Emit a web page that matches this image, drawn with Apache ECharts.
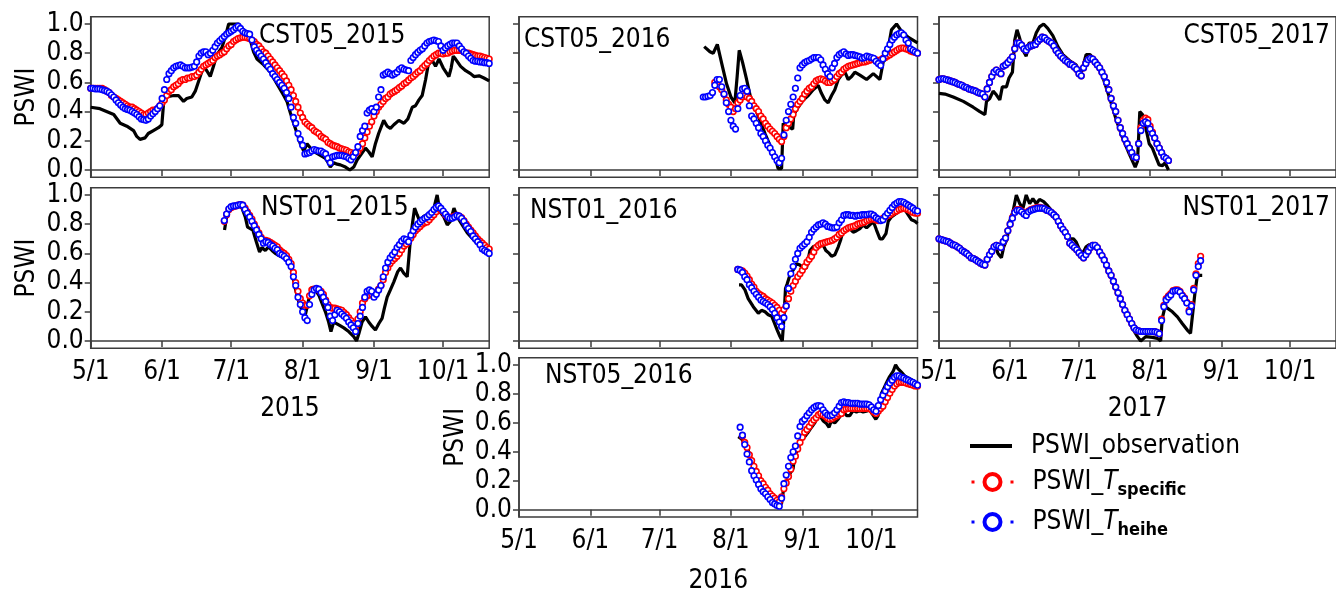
<!DOCTYPE html>
<html>
<head>
<meta charset="utf-8">
<script src="https://cdn.jsdelivr.net/npm/echarts@6/dist/echarts.min.js"></script>
<style>
  html, body { margin: 0; padding: 0; background: #fff; }
  #chart { width: 1336px; height: 595px; }
</style>
</head>
<body>
<div id="chart"></div>
<script>
// Day offsets are counted from 1 May of each season (day 0 = 5/1).
const DAY_TICKS = [0, 31, 61, 92, 123, 153];
const DAY_LABELS = ['5/1', '6/1', '7/1', '8/1', '9/1', '10/1'];
const Y_TICKS = [0, 0.2, 0.4, 0.6, 0.8, 1.0];
const SERIES_NAMES = ['PSWI_observation', 'PSWI_Tspecific', 'PSWI_Theihe'];

// ---------- CST05 2015 ----------
const OBS_CST05_2015 = [[0,.43],[4,.42],[10,.38],[12.8,.32],[15.7,.30],[18.6,.27],[20,.23],[21.4,.21],[23.6,.22],[25,.25],[27.2,.27],[29.4,.29],[30.9,.31],[31.9,.51],[33,.50],[36,.51],[38.1,.51],[40.3,.47],[41.7,.49],[43.9,.50],[45.4,.54],[47.1,.62],[49,.71],[50.4,.68],[51.9,.64],[53.3,.71],[54.8,.79],[57,.84],[58.4,.91],[59.9,1.0],[62,1.0],[64.2,1.0],[65.7,.97],[67.8,.93],[69.3,.89],[70.7,.81],[72.2,.76],[75.1,.72],[78,.67],[80.9,.59],[83.8,.51],[85.2,.47],[86.7,.39],[88.1,.32],[89.6,.25],[91,.18],[92.5,.13],[93.9,.18],[95.4,.15],[97.5,.12],[99.7,.10],[101.9,.08],[103.3,.045],[104,.02],[105.5,.05],[107,.04],[108.4,.035],[110.6,.02],[112.5,0],[114.2,.02],[115.7,.07],[117.1,.10],[119.3,.15],[120.7,.125],[122.2,.09],[123.6,.18],[125,.25],[127.2,.34],[128.7,.30],[130.1,.285],[131.6,.31],[133.8,.34],[136,.32],[137.7,.35],[139.6,.43],[141,.44],[142.5,.48],[143.9,.51],[145.4,.62],[146.5,.72],[148.3,.75],[149.7,.71],[151.2,.76],[153,.70],[155.5,.64],[156.5,.70],[157.4,.78],[158.4,.76],[160.6,.71],[162.8,.68],[164.9,.66],[166.4,.64],[168.6,.645],[170.7,.63],[173,.61]];
const SPEC_CST05_2015 = [
  .56,.56,.56,.56,.56,.56,.55,.54,.53,.51,
  .50,.49,.48,.47,.46,.45,.44,.43,.43,.42,
  .41,.40,.39,.38,.38,.39,.40,.41,.41,.42,
  .44,.46,.48,.51,.54,.55,.57,.58,.59,.61,
  .62,.62,.63,.63,.64,.64,.65,.67,.69,.71,
  .72,.73,.74,.75,.77,.78,.79,.80,.81,.83,
  .85,.86,.88,.89,.90,.905,.91,.91,.905,.90,
  .89,.88,.86,.85,.83,.81,.80,.78,.76,.74,
  .72,.70,.68,.66,.64,.61,.58,.55,.51,.47,
  .43,.39,.36,.33,.315,.30,.29,.27,.26,.25,
  .23,.22,.21,.19,.18,.17,.165,.16,.15,.145,
  .14,.135,.125,.12,.11,.115,.125,.15,.18,.22,
  .26,.30,.33,.37,.40,.43,.45,.47,.49,.50,
  .52,.53,.54,.55,.565,.575,.59,.60,.615,.63,
  .64,.655,.67,.68,.70,.715,.73,.75,.765,.78,
  .79,.80,.80,.795,.80,.80,.81,.815,.82,.82,
  .82,.82,.81,.80,.80,.795,.79,.785,.78,.78,
  .775,.77,.765,.76];
const HEIHE_CST05_2015 = [
  .56,.56,.555,.555,.555,.55,.545,.54,.53,.515,
  .50,.48,.46,.445,.43,.42,.415,.41,.40,.39,
  .38,.365,.35,.345,.34,.35,.37,.385,.40,.42,
  .44,.49,.55,.62,.66,.68,.70,.71,.715,.72,
  .71,.70,.70,.70,.705,.71,.74,.78,.80,.81,
  .81,.79,.80,.82,.845,.87,.885,.90,.915,.93,
  .94,.95,.96,.975,.985,.97,.95,.94,.935,.93,
  .89,.845,.82,.80,.78,.76,.735,.71,.69,.66,
  .64,.62,.60,.58,.56,.53,.49,.43,.36,.32,
  .25,.21,.17,.11,.115,.12,.13,.14,.135,.13,
  .13,.12,.11,.08,.05,.09,.095,.10,.10,.10,
  .095,.09,.08,.07,.09,.12,.16,.23,.27,.30,
  .39,.41,.42,.40,.43,.50,.55,.65,.66,.67,
  .66,.65,.66,.67,.69,.70,.69,.685,.68,.75,
  .77,.79,.805,.82,.83,.85,.87,.88,.885,.89,
  .885,.88,.85,.82,.835,.85,.86,.87,.87,.87,
  .85,.83,.81,.80,.78,.765,.75,.745,.745,.74,
  .74,.735,.735,.73];

// ---------- CST05 2016 ----------
const OBS_CST05_2016 = [[80.4,.845],[82.9,.81],[84.3,.80],[86.1,.86],[88,.73],[90.1,.59],[92,.50],[93.7,.46],[94.7,.64],[95.6,.82],[97,.74],[98.8,.62],[100.5,.50],[102.4,.43],[104.6,.34],[106.8,.25],[108.9,.17],[111.1,.09],[112.5,.01],[114,.01],[114.7,.32],[115.9,.30],[117.6,.29],[118.8,.28],[119.3,.38],[121.2,.43],[123.4,.48],[125.6,.51],[127.7,.55],[129.9,.58],[131.3,.525],[132.8,.48],[134.2,.46],[135.7,.51],[137.1,.55],[138.6,.62],[140,.65],[141.5,.67],[142.9,.62],[144.4,.64],[145.8,.67],[148,.65],[150.9,.62],[153.8,.66],[156.7,.62],[158.1,.74],[159.8,.79],[161.7,.96],[163.9,1.0],[166.1,.95],[168.9,.91],[173,.87]];
const SPEC_CST05_2016 = [
  .60,.59,.57,.55,.52,.48,.45,.43,.40,.42,
  .46,.48,.50,.51,.50,.49,.47,.44,.42,.40,
  .37,.35,.32,.30,.28,.265,.25,.23,.21,.195,
  .23,.29,.32,.35,.38,.42,.45,.47,.49,.52,
  .54,.56,.57,.59,.61,.62,.625,.62,.61,.60,
  .60,.61,.62,.64,.66,.67,.69,.70,.71,.715,
  .72,.725,.73,.735,.74,.74,.745,.75,.755,.76,
  .755,.745,.755,.765,.77,.78,.79,.80,.81,.82,
  .83,.835,.835,.83,.825,.815,.81,.805,.80];
const HEIHE_CST05_2016 = [
  .50,.50,.505,.51,.53,.58,.62,.62,.57,.52,
  .46,.40,.34,.30,.28,.42,.51,.555,.56,.54,
  .44,.37,.35,.32,.29,.25,.23,.20,.17,.15,
  .12,.09,.065,.05,.08,.24,.34,.40,.45,.50,
  .56,.63,.70,.72,.735,.745,.75,.76,.77,.77,
  .77,.755,.72,.69,.66,.64,.70,.73,.77,.79,
  .80,.81,.795,.785,.79,.79,.785,.78,.775,.765,
  .77,.78,.775,.77,.765,.745,.73,.715,.76,.80,
  .83,.86,.89,.91,.925,.935,.94,.925,.89,.87,
  .83,.82,.81,.80];

// ---------- CST05 2017 ----------
const OBS_CST05_2017 = [[0,.525],[2.6,.52],[6.2,.50],[10.6,.47],[14.9,.43],[17.8,.40],[20,.38],[20.7,.47],[22.1,.49],[23.6,.54],[25,.515],[26.5,.48],[27.6,.57],[29.4,.57],[30.5,.63],[32,.67],[33,.89],[34,.96],[35.2,.90],[36.6,.82],[38,.78],[39.2,.87],[40.9,.87],[42.4,.94],[43.8,.98],[45.6,1.0],[47.4,.97],[49.6,.92],[51.8,.845],[54,.79],[56.8,.75],[59.7,.72],[61.9,.66],[64.1,.79],[65.8,.79],[67,.77],[69.1,.73],[71.3,.64],[74.2,.50],[77.1,.35],[80,.22],[82.9,.11],[85.5,.02],[86.5,.06],[87.5,.40],[88.7,.38],[90.1,.29],[91.6,.18],[93,.15],[94.5,.09],[95.9,.035],[97.4,.03],[98.5,.05],[100,0]];
const SPEC_CST05_2017 = [
  .62,.625,.625,.62,.615,.61,.605,.60,.59,.585,
  .58,.57,.565,.555,.55,.545,.54,.53,.525,.52,
  .50,.555,.60,.64,.67,.685,.67,.66,.71,.72,
  .735,.755,.775,.83,.87,.87,.855,.83,.82,.84,
  .85,.855,.86,.88,.895,.91,.905,.89,.88,.87,
  .85,.82,.80,.78,.765,.75,.74,.725,.72,.705,
  .69,.66,.645,.70,.73,.755,.765,.76,.74,.72,
  .70,.67,.64,.60,.55,.49,.44,.40,.34,.29,
  .25,.21,.18,.15,.12,.09,.085,.18,.29,.34,
  .355,.345,.30,.26,.22,.18,.15,.12,.09,.08,
  .065];
const HEIHE_CST05_2017 = [
  .62,.625,.625,.62,.615,.61,.605,.60,.59,.585,
  .58,.57,.565,.555,.55,.545,.54,.53,.525,.52,
  .50,.555,.60,.64,.67,.685,.67,.66,.71,.72,
  .735,.755,.775,.83,.87,.87,.855,.83,.82,.84,
  .85,.855,.86,.88,.895,.91,.905,.89,.88,.87,
  .85,.82,.80,.78,.765,.75,.74,.725,.72,.705,
  .69,.66,.645,.70,.73,.755,.765,.76,.74,.72,
  .70,.67,.64,.60,.55,.49,.44,.40,.34,.29,
  .25,.21,.18,.15,.12,.09,.085,.18,.27,.32,
  .33,.32,.28,.25,.22,.18,.15,.12,.09,.08,
  .065];

// ---------- NST01 2015 ----------
const OBS_NST01_2015 = [[58.1,.76],[59.1,.86],[60.6,.91],[62,.92],[64.2,.93],[65.7,.91],[67.1,.85],[68.1,.78],[69.3,.77],[70.4,.76],[71.9,.68],[73.3,.61],[74.3,.64],[75.8,.62],[77.2,.645],[78.7,.62],[80.1,.60],[82.3,.58],[84.5,.565],[85.9,.545],[87.4,.475],[88.8,.36],[90.3,.27],[91.7,.21],[93.2,.18],[94.6,.28],[96.1,.37],[97.5,.35],[99,.315],[100.4,.26],[101.9,.20],[103.3,.13],[104.3,.065],[105.5,.13],[107.7,.11],[109.9,.09],[112,.065],[114.2,.03],[115.4,0],[116.4,.05],[117.8,.13],[119.3,.165],[120.7,.13],[122.2,.10],[123.6,.075],[125.1,.12],[126.5,.155],[127.5,.225],[128.7,.30],[130.1,.35],[131.6,.405],[133.3,.475],[134.5,.50],[135.9,.465],[137.4,.44],[138.6,.66],[139.6,.795],[140.6,.91],[141.7,.865],[142.9,.82],[144.6,.855],[146.8,.87],[149,.91],[150.4,1.0],[151.6,.885],[153.3,.85],[154.8,.795],[156.2,.82],[157.7,.91],[159.1,.85],[161.3,.795],[163.5,.74],[166.4,.69],[169.3,.645],[171.4,.62],[173,.59]];
const SPEC_NST01_2015 = [
  .82,.865,.90,.915,.92,.925,.93,.935,.93,.91,
  .885,.86,.835,.80,.77,.74,.71,.685,.69,.685,
  .675,.665,.655,.645,.625,.61,.60,.585,.56,.53,
  .47,.40,.34,.29,.26,.245,.245,.31,.35,.355,
  .355,.35,.34,.32,.28,.25,.23,.225,.225,.22,
  .215,.21,.195,.18,.16,.14,.12,.10,.15,.20,
  .26,.29,.31,.315,.32,.32,.33,.355,.38,.42,
  .47,.50,.53,.55,.565,.58,.60,.625,.65,.665,
  .68,.705,.73,.755,.77,.785,.80,.81,.815,.83,
  .85,.865,.885,.905,.90,.885,.865,.85,.845,.85,
  .855,.86,.855,.845,.825,.80,.78,.76,.74,.72,
  .70,.685,.67,.655,.64,.63];
const HEIHE_NST01_2015 = [
  .825,.87,.905,.92,.925,.925,.93,.935,.93,.90,
  .875,.85,.82,.79,.76,.73,.70,.67,.68,.675,
  .66,.65,.635,.625,.60,.59,.58,.565,.54,.51,
  .44,.38,.30,.25,.20,.16,.14,.25,.32,.35,
  .36,.355,.33,.30,.27,.23,.17,.14,.18,.21,
  .20,.185,.17,.155,.13,.11,.09,.065,.12,.17,
  .23,.30,.34,.35,.34,.30,.32,.35,.38,.44,
  .50,.54,.57,.59,.61,.64,.66,.685,.70,.695,
  .68,.725,.755,.78,.80,.815,.83,.84,.85,.865,
  .88,.90,.915,.925,.91,.89,.87,.85,.84,.84,
  .85,.86,.855,.84,.82,.79,.77,.75,.72,.70,
  .68,.66,.63,.62,.61,.60];

// ---------- NST01 2016 ----------
const OBS_NST01_2016 = [[95.5,.385],[96.6,.385],[98.1,.35],[99.5,.29],[101.7,.235],[103.9,.19],[105.3,.21],[106.8,.20],[108.2,.18],[109.7,.17],[110.7,.13],[112.1,.075],[113.3,.03],[114.3,0],[115,.155],[115.7,.36],[116.4,.39],[117.6,.45],[119,.485],[120.5,.53],[121.9,.52],[123.4,.50],[124.8,.50],[126.3,.62],[127.7,.645],[129.2,.655],[130.6,.68],[132.1,.655],[133.2,.62],[134.7,.60],[135.7,.58],[137.1,.59],[138.6,.645],[139.6,.69],[140.7,.76],[142.2,.78],[143.6,.77],[145.1,.745],[146.5,.755],[148,.77],[149.4,.795],[150.9,.775],[152.3,.795],[153.8,.82],[155.2,.76],[156.7,.70],[157.8,.70],[159.3,.735],[160.3,.82],[161.7,.85],[163.9,.875],[166.1,.91],[167.5,.90],[168.9,.865],[170.4,.83],[171.9,.82],[173,.805]];
const SPEC_NST01_2016 = [
  .49,.485,.48,.465,.445,.42,.39,.37,.34,.325,
  .315,.305,.29,.28,.27,.26,.245,.23,.21,.19,
  .215,.24,.29,.34,.38,.41,.44,.46,.485,.51,
  .54,.56,.58,.61,.64,.655,.665,.67,.675,.68,
  .685,.69,.70,.71,.73,.74,.755,.765,.775,.78,
  .785,.79,.80,.805,.81,.815,.825,.83,.835,.835,
  .83,.825,.83,.84,.85,.86,.865,.875,.885,.89,
  .90,.905,.91,.905,.90,.89,.88,.875,.875];
const HEIHE_NST01_2016 = [
  .49,.485,.47,.44,.42,.385,.365,.34,.32,.30,
  .28,.27,.26,.25,.235,.215,.19,.16,.13,.10,
  .16,.24,.36,.46,.51,.56,.60,.635,.65,.665,
  .68,.71,.745,.765,.78,.795,.80,.81,.80,.785,
  .78,.775,.775,.78,.81,.83,.86,.865,.865,.86,
  .86,.855,.86,.86,.865,.865,.865,.87,.87,.86,
  .845,.835,.825,.83,.855,.875,.895,.915,.935,.945,
  .955,.955,.95,.94,.93,.92,.91,.895,.89];

// ---------- NST01 2017 ----------
const OBS_NST01_2017 = [[0,.70],[6.2,.66],[12.7,.59],[18.5,.53],[20,.52],[20.7,.56],[22.9,.615],[24.7,.645],[25.7,.60],[27.2,.57],[28.2,.645],[29.7,.70],[30.8,.82],[32.3,.89],[33.7,1.0],[35.2,.94],[36.6,.91],[38,1.0],[39.5,.94],[40.9,.975],[42.4,.94],[43.8,.97],[45.6,.955],[47.4,.925],[49.6,.885],[51.1,.86],[52.5,.82],[54,.775],[55.4,.74],[56.8,.70],[58.6,.70],[59.7,.68],[61.2,.625],[62.6,.60],[64.1,.645],[65.5,.66],[67,.645],[69.1,.625],[71.3,.565],[73.5,.485],[75.7,.405],[77.8,.325],[80,.245],[82.2,.165],[84.3,.087],[86.5,.03],[87.9,0],[90.1,.03],[93,.025],[95.2,.018],[96.6,0],[97.3,.155],[98.5,.235],[99.5,.225],[101.7,.20],[103.9,.165],[106,.12],[108.2,.075],[109.6,.053],[110.4,.065],[111.5,.325],[112.5,.44],[113.6,.45],[114.7,.45]];
const SPEC_NST01_2017 = [
  .70,.695,.69,.685,.68,.67,.66,.655,.645,.635,
  .62,.61,.60,.585,.57,.565,.555,.545,.535,.525,
  .52,.56,.59,.615,.645,.655,.65,.64,.68,.705,
  .755,.80,.845,.885,.90,.90,.89,.875,.865,.89,
  .90,.905,.91,.915,.915,.91,.905,.895,.89,.88,
  .865,.85,.82,.79,.765,.745,.715,.67,.655,.64,
  .625,.605,.585,.57,.59,.615,.64,.655,.655,.64,
  .61,.585,.555,.52,.48,.45,.41,.37,.33,.29,
  .25,.21,.18,.15,.12,.09,.075,.07,.065,.065,
  .065,.065,.065,.065,.064,.06,.05,.15,.245,.29,
  .31,.325,.345,.35,.35,.34,.315,.295,.265,.21,
  .25,.36,.46,.53,.58];
const HEIHE_NST01_2017 = [
  .70,.695,.69,.685,.68,.67,.66,.655,.645,.635,
  .62,.61,.60,.585,.57,.565,.555,.545,.535,.525,
  .52,.56,.59,.615,.645,.655,.65,.64,.68,.705,
  .755,.80,.84,.88,.895,.895,.885,.87,.86,.885,
  .895,.90,.905,.91,.91,.91,.905,.895,.89,.88,
  .865,.85,.82,.79,.765,.745,.715,.67,.655,.64,
  .625,.605,.585,.57,.59,.615,.64,.655,.655,.64,
  .61,.585,.555,.52,.48,.45,.41,.37,.33,.29,
  .25,.21,.18,.15,.12,.09,.075,.07,.065,.065,
  .065,.065,.065,.065,.064,.06,.05,.14,.235,.28,
  .30,.315,.34,.345,.345,.335,.31,.29,.26,.20,
  .24,.35,.45,.51,.55];

// ---------- NST05 2016 ----------
const OBS_NST05_2016 = [[95.2,.505],[96.6,.49],[98,.455],[99.5,.41],[100.9,.35],[102.4,.295],[103.8,.25],[105.3,.205],[106.7,.16],[108.2,.125],[109.6,.09],[111.1,.057],[112.5,.016],[113.2,.007],[114,.045],[114.7,.125],[115.8,.19],[116.8,.215],[117.6,.25],[118.3,.245],[119,.285],[119.7,.375],[120.5,.375],[121.2,.42],[122.2,.48],[123.1,.495],[124.1,.505],[125.5,.535],[127,.57],[128.4,.60],[129.4,.635],[130.6,.65],[132,.615],[133.5,.595],[134.6,.57],[135.6,.615],[137.1,.60],[138.5,.625],[140,.66],[141,.675],[142.2,.65],[143.6,.65],[145,.685],[146.5,.675],[147.9,.685],[149.4,.675],[150.8,.68],[152.3,.69],[153.4,.66],[154.9,.625],[155.9,.65],[156.6,.725],[157.4,.805],[158.3,.835],[159.5,.875],[160.9,.92],[162.4,.955],[163.5,1.0],[164.5,.975],[166,.95],[167.4,.925],[168.9,.91],[170.3,.90],[171.8,.88],[173,.875]];
const SPEC_NST05_2016 = [
  .51,.465,.43,.38,.34,.30,.265,.235,.20,.18,
  .155,.135,.11,.095,.08,.065,.055,.09,.145,.185,
  .23,.28,.335,.37,.42,.465,.50,.535,.555,.575,
  .60,.62,.635,.655,.665,.655,.645,.63,.625,.63,
  .64,.65,.66,.665,.69,.695,.70,.70,.70,.70,
  .70,.70,.70,.70,.70,.70,.69,.675,.665,.68,
  .70,.715,.745,.775,.805,.83,.855,.87,.88,.88,
  .88,.875,.87,.865,.86,.855,.855];
const HEIHE_NST05_2016 = [
  .57,.515,.45,.385,.33,.27,.235,.205,.175,.145,
  .125,.11,.09,.07,.05,.04,.03,.025,.08,.18,
  .24,.30,.36,.40,.44,.51,.575,.61,.625,.65,
  .67,.69,.705,.715,.72,.715,.69,.67,.655,.65,
  .655,.67,.69,.715,.74,.745,.74,.74,.735,.735,
  .735,.735,.73,.73,.73,.73,.725,.71,.69,.68,
  .72,.76,.79,.82,.85,.875,.895,.915,.925,.925,
  .915,.91,.90,.895,.885,.88,.87,.86];

// Panels: station/year, data arrays and first day of each simulated series.
const PANELS = [
  { title: 'CST05_2015', obs: OBS_CST05_2015, spec: SPEC_CST05_2015, specStart: 0,  heihe: HEIHE_CST05_2015, heiheStart: 0 },
  { title: 'CST05_2016', obs: OBS_CST05_2016, spec: SPEC_CST05_2016, specStart: 85, heihe: HEIHE_CST05_2016, heiheStart: 80 },
  { title: 'CST05_2017', obs: OBS_CST05_2017, spec: SPEC_CST05_2017, specStart: 0,  heihe: HEIHE_CST05_2017, heiheStart: 0 },
  { title: 'NST01_2015', obs: OBS_NST01_2015, spec: SPEC_NST01_2015, specStart: 58, heihe: HEIHE_NST01_2015, heiheStart: 58 },
  { title: 'NST01_2016', obs: OBS_NST01_2016, spec: SPEC_NST01_2016, specStart: 95, heihe: HEIHE_NST01_2016, heiheStart: 95 },
  { title: 'NST01_2017', obs: OBS_NST01_2017, spec: SPEC_NST01_2017, specStart: 0,  heihe: HEIHE_NST01_2017, heiheStart: 0 },
  { title: 'NST05_2016', obs: OBS_NST05_2016, spec: SPEC_NST05_2016, specStart: 97, heihe: HEIHE_NST05_2016, heiheStart: 96 }
];

// Page layout of the seven small multiples.
const LAYOUT = [
  { left: 90.7, top: 16.7,  yLabels: true,  xLabels: false, xName: '',     nameGap: 48, title: { left: 259, top: 23 } },
  { left: 519,  top: 16.7,  yLabels: false, xLabels: false, xName: '',     nameGap: 48, title: { left: 524, top: 27 } },
  { left: 939,  top: 16.7,  yLabels: false, xLabels: false, xName: '',     nameGap: 48, title: { right: 6,  top: 23 } },
  { left: 90.7, top: 187.7, yLabels: true,  xLabels: true,  xName: '2015', nameGap: 48, title: { left: 261, top: 195 } },
  { left: 519,  top: 187.7, yLabels: false, xLabels: false, xName: '',     nameGap: 48, title: { left: 530, top: 198 } },
  { left: 939,  top: 187.7, yLabels: false, xLabels: true,  xName: '2017', nameGap: 48, title: { right: 6,  top: 195 } },
  { left: 519,  top: 357.7, yLabels: true,  xLabels: true,  xName: '2016', nameGap: 51, title: { left: 545, top: 363 } }
];
const GRID_W = 398.5, GRID_H = 160.6;

const FONT = '"DejaVu Sans Condensed", "DejaVu Sans", sans-serif';
const AXIS_COLOR = '#3c3c3c';
const RED = '#ff0000', BLUE = '#0000ff';

const toPairs = (values, start) => values.map((v, i) => [start + i, v]);

const grids = [], xAxes = [], yAxes = [], titles = [], series = [];
PANELS.forEach((p, i) => {
  const L = LAYOUT[i];
  grids.push({
    left: L.left, top: L.top, width: GRID_W, height: GRID_H,
    show: true, borderColor: AXIS_COLOR, borderWidth: 1.5, backgroundColor: 'transparent'
  });
  xAxes.push({
    type: 'value', gridIndex: i, min: 0, max: 173,
    axisLine: { show: true, lineStyle: { color: AXIS_COLOR, width: 1.5 } },
    axisTick: { show: true, customValues: DAY_TICKS, length: 6, lineStyle: { color: AXIS_COLOR, width: 1.5 } },
    axisLabel: {
      show: L.xLabels, customValues: DAY_TICKS, margin: 11,
      formatter: v => DAY_LABELS[DAY_TICKS.indexOf(v)],
      color: '#000', fontSize: 26, fontFamily: FONT
    },
    splitLine: { show: false },
    name: L.xName, nameLocation: 'middle', nameGap: L.nameGap,
    nameTextStyle: { color: '#000', fontSize: 26, fontFamily: FONT }
  });
  yAxes.push({
    type: 'value', gridIndex: i, min: -0.05, max: 1.05,
    axisLine: { show: true, lineStyle: { color: AXIS_COLOR, width: 1.5 } },
    axisTick: { show: true, customValues: Y_TICKS, length: 6, lineStyle: { color: AXIS_COLOR, width: 1.5 } },
    axisLabel: {
      show: L.yLabels, customValues: Y_TICKS, margin: 7,
      formatter: v => v.toFixed(1),
      color: '#000', fontSize: 26, fontFamily: FONT
    },
    splitLine: { show: false },
    name: L.yLabels ? 'PSWI' : '', nameLocation: 'middle', nameGap: 50,
    nameTextStyle: { color: '#000', fontSize: 26, fontFamily: FONT }
  });
  titles.push(Object.assign({
    text: p.title, padding: 0,
    textStyle: { color: '#000', fontSize: 26, fontWeight: 'normal', fontFamily: FONT }
  }, L.title));

  series.push({
    name: SERIES_NAMES[0], type: 'line', xAxisIndex: i, yAxisIndex: i,
    data: p.obs, symbol: 'none', silent: true,
    lineStyle: { color: '#000', width: 3.2 }, itemStyle: { color: '#000' }
  });
  [[SERIES_NAMES[1], p.spec, p.specStart, RED], [SERIES_NAMES[2], p.heihe, p.heiheStart, BLUE]].forEach(([name, vals, start, col]) => {
    series.push({
      name, type: 'line', xAxisIndex: i, yAxisIndex: i,
      data: toPairs(vals, start), silent: true,
      symbol: 'circle', symbolSize: 5.6, showSymbol: true, showAllSymbol: true,
      lineStyle: { opacity: 0, color: col },
      itemStyle: { color: '#fff', borderColor: col, borderWidth: 1.6 }
    });
  });
});

// Legend: one entry per block so each row sits at its own height.
const LEGEND_TEXT = {
  'PSWI_observation': '{sp| }{n|PSWI_observation}',
  'PSWI_Tspecific': '{sp| }{n|PSWI_}{t|T}{s|specific}',
  'PSWI_Theihe': '{sp| }{n|PSWI_}{t|T}{s|heihe}'
};
const LEGEND_ITEMS = [
  { name: SERIES_NAMES[0], icon: 'path://M0,0L0,0M0,8L42,8L42,12L0,12ZM42,20L42,20', itemStyle: { color: '#000' } },
  { name: SERIES_NAMES[1], itemStyle: { color: '#fff', borderColor: RED, borderWidth: 4 },
    lineStyle: { color: RED, opacity: 1, width: 3, type: [3, 36] } },
  { name: SERIES_NAMES[2], itemStyle: { color: '#fff', borderColor: BLUE, borderWidth: 4 },
    lineStyle: { color: BLUE, opacity: 1, width: 3, type: [3, 36] } }
];
const LEGEND_TOPS = [433, 469, 509];
const legends = LEGEND_ITEMS.map((item, k) => ({
  orient: 'vertical', left: 970, top: LEGEND_TOPS[k], padding: 0,
  itemWidth: 42, itemHeight: 20, selectedMode: false,
  formatter: name => LEGEND_TEXT[name],
  textStyle: {
    color: '#000', fontSize: 26, fontFamily: FONT,
    rich: {
      sp: { width: 14, fontSize: 26 },
      n: { fontSize: 26, fontFamily: FONT, color: '#000' },
      t: { fontSize: 26, fontFamily: FONT, fontStyle: 'italic', color: '#000' },
      s: { fontSize: 18, fontFamily: FONT, fontWeight: 'bold', color: '#000', padding: [16, 0, 0, 0] }
    }
  },
  data: [item]
}));

const chart = echarts.init(document.getElementById('chart'), null, { renderer: 'canvas' });
chart.setOption({
  animation: false,
  backgroundColor: '#fff',
  textStyle: { fontFamily: FONT },
  title: titles,
  grid: grids,
  xAxis: xAxes,
  yAxis: yAxes,
  legend: legends,
  series
});
</script>
</body>
</html>
